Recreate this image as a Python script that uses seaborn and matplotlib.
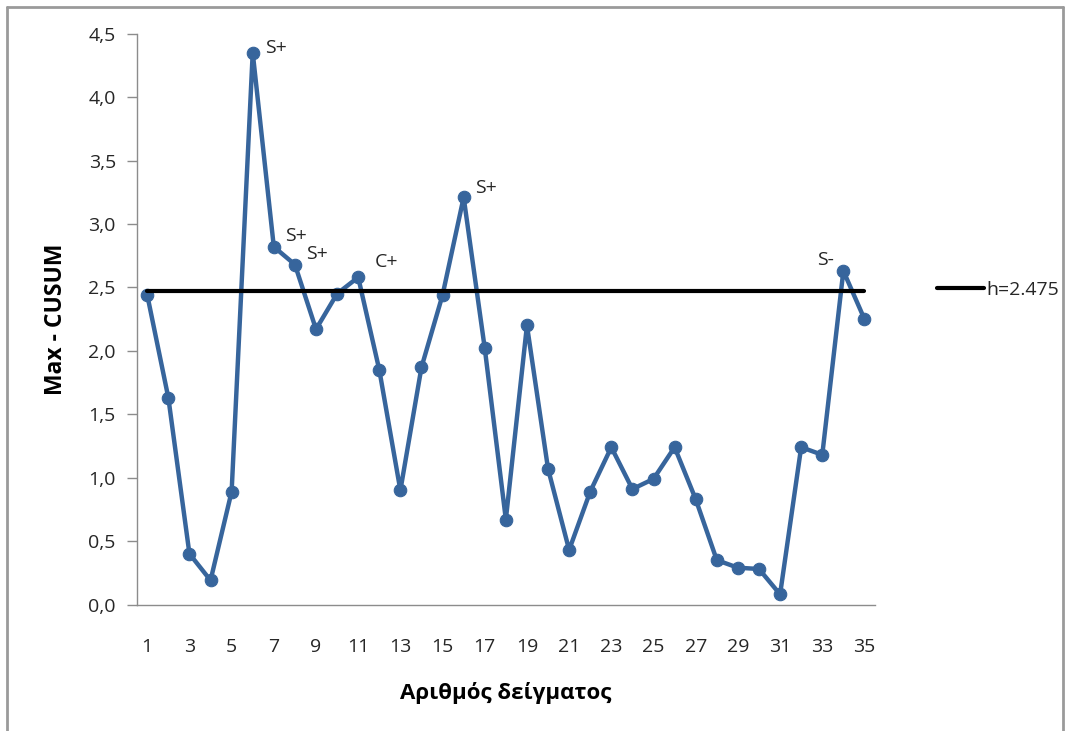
import matplotlib
matplotlib.use("Agg")
import matplotlib.pyplot as plt
from matplotlib.ticker import FuncFormatter, MultipleLocator
from matplotlib.lines import Line2D
import seaborn as sns
import pandas as pd

# Max-CUSUM statistic per sample
samples = list(range(1, 36))
max_cusum = [2.44, 1.63, 0.40, 0.19, 0.89, 4.35, 2.82, 2.68, 2.17, 2.45,
             2.58, 1.85, 0.90, 1.87, 2.44, 3.21, 2.02, 0.67, 2.20, 1.07,
             0.43, 0.89, 1.24, 0.91, 0.99, 1.24, 0.83, 0.35, 0.29, 0.28,
             0.08, 1.24, 1.18, 2.63, 2.25]

# Decision interval
h_value = 2.475
h_label = "h=2.475"

# Signal labels attached to individual samples
signal_samples = [6, 7, 8, 11, 16, 34]
signal_labels = ["S+", "S+", "S+", "C+", "S+", "S-"]

x_ticks = list(range(1, 36, 2))
y_max = 4.5
x_title = "Αριθμός δείγματος"
y_title = "Max - CUSUM"

sns.set_theme(style="white")
plt.rcParams["font.family"] = ["Open Sans", "DejaVu Sans"]

W, H, DPI = 1065, 731, 100
fig = plt.figure(figsize=(W / DPI, H / DPI), dpi=DPI)
fig.patch.set_facecolor("white")

left, right, top, bottom = 136.7, 875.0, 33.7, 604.5
ax = fig.add_axes([left / W, 1 - bottom / H, (right - left) / W, (bottom - top) / H])

df = pd.DataFrame({"sample": samples, "value": max_cusum})
blue = "#37659C"
sns.lineplot(data=df, x="sample", y="value", ax=ax, color=blue, linewidth=3.2,
             marker="o", markersize=9, markeredgecolor=blue, markeredgewidth=0.8,
             legend=False, zorder=3)

h_df = pd.DataFrame({"sample": [samples[0], samples[-1]], "value": [h_value, h_value]})
sns.lineplot(data=h_df, x="sample", y="value", ax=ax, color="black", linewidth=3.0,
             legend=False, zorder=4)

ax.set_xlim(0.5, 35.5)
ax.set_ylim(0, y_max)
ax.set_xticks(x_ticks)
ax.yaxis.set_major_locator(MultipleLocator(0.5))
ax.yaxis.set_major_formatter(FuncFormatter(lambda v, _: f"{v:.1f}".replace(".", ",")))

for side in ("top", "right"):
    ax.spines[side].set_visible(False)
for side in ("left", "bottom"):
    ax.spines[side].set_color("#8C8C8C")
    ax.spines[side].set_linewidth(1.0)

tick_fs = 14
ax.tick_params(axis="y", which="major", direction="out", length=7, width=1.0,
               color="#8C8C8C", labelsize=tick_fs, labelcolor="#262626", pad=8, left=True)
ax.tick_params(axis="x", which="major", length=0, labelsize=tick_fs,
               labelcolor="#262626", pad=24)

ax.set_xlabel(x_title, fontsize=16, fontweight="bold", color="black", labelpad=19)
ax.set_ylabel(y_title, fontsize=16.5, fontweight="bold", color="black", labelpad=15)

# Signal annotations
value_of = dict(zip(samples, max_cusum))
offsets = {6: (9.0, 3.5), 7: (8.0, 7.5), 8: (8.0, 7.5), 11: (12.0, 11.0),
           16: (8.5, 7.0), 34: (-6.5, 7.5)}
for s, lab in zip(signal_samples, signal_labels):
    dx, dy = offsets[s]
    ax.annotate(lab, xy=(s, value_of[s]), xytext=(dx, dy), textcoords="offset points",
                ha="left" if dx > 0 else "right", va="center", fontsize=tick_fs,
                color="#262626", annotation_clip=False)

# Legend for the decision interval
handle = Line2D([], [], color="black", linewidth=3.0)
fig.legend([handle], [h_label], loc="center left",
           bbox_to_anchor=(937 / W, 1 - 290 / H), frameon=False, fontsize=tick_fs,
           handlelength=2.4, handletextpad=0.12, borderpad=0, borderaxespad=0,
           labelcolor="#262626")

# Chart-area border
border_kw = dict(color="#9A9A9A", linewidth=2.0, transform=fig.transFigure)
fig.add_artist(Line2D([7 / W, 7 / W], [0, 1 - 7 / H], **border_kw))
fig.add_artist(Line2D([7 / W, 1063 / W], [1 - 7 / H, 1 - 7 / H], **border_kw))
fig.add_artist(Line2D([1063 / W, 1063 / W], [0, 1 - 7 / H], **border_kw))

fig.savefig("out.png", dpi=DPI, facecolor="white")
